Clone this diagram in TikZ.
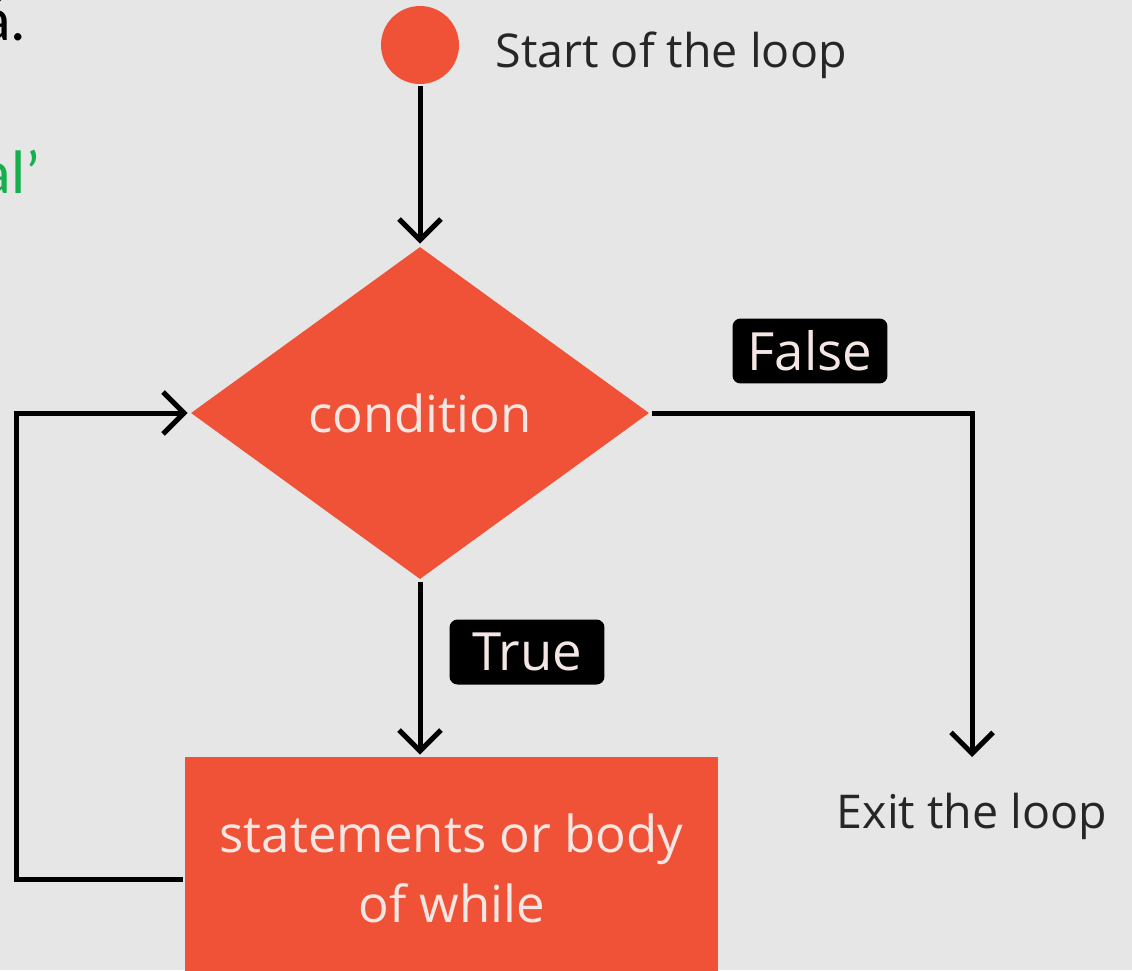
\documentclass[tikz,border=0pt]{standalone}
\usepackage{fontspec}
\setmainfont{Open Sans}
\newfontfamily\docfont{Carlito}
\usetikzlibrary{arrows.meta, positioning, shapes.geometric}
\definecolor{corange}{HTML}{F05237}
\definecolor{cback}{HTML}{E6E6E6}
\definecolor{cpale}{HTML}{F4E6E2}
\definecolor{cgreen}{HTML}{13B04B}
\newcommand\flowsize{\fontsize{26.5}{39.8}\selectfont}
\newcommand\shapesize{\fontsize{29}{39.8}\selectfont}
\tikzset{
  every picture/.style={line width=0.1cm},
  shapebox/.style={fill=corange, text=cpale, inner sep=0pt, align=center, font=\shapesize},
  tag/.style={fill=black, text=cpale, rounded corners=0.16cm, minimum width=3.1cm, minimum height=1.3cm, inner sep=0pt, font=\fontsize{30}{36}\selectfont},
  note/.style={font=\flowsize, text=black!85},
  arrow/.style={-{Straight Barb[length=0.42cm, width=0.84cm]}, draw=black},
}

\begin{document}
\begin{tikzpicture}[x=0.02cm, y=-0.02cm]
  \fill[cback] (0,0) rectangle (1132,970);
  \useasboundingbox (0,0) rectangle (1132,970);
  % cut-off text of the page behind
  \node[anchor=base east, inner sep=0pt, font=\docfont\fontsize{35}{42}\selectfont] (pagea) at (29,40) {á.};
  \node[anchor=base east, inner sep=0pt, text=cgreen, font=\docfont\fontsize{35}{42}\selectfont] (pageb) at (43,193) {al’};
  % the loop
  \node[circle, fill=corange, minimum size=1.56cm, inner sep=0pt] (start) at (420,45) {};
  \node[note, anchor=base west, inner sep=0pt] (startlbl) at (493,67) {Start of the loop};
  \node[shapebox, diamond, minimum width=9.2cm, minimum height=6.68cm] (cond) at (420,413) {condition};
  \node[shapebox, minimum width=10.66cm, minimum height=4.44cm] (body) at (451.5,868) {statements or body\\of while};
  \node[tag] (false) at (810,351) {False};
  \node[tag] (true) at (527,652) {True};
  \coordinate (exitin) at (972,757);
  \node[note, anchor=base, inner sep=0pt] (exit) at (972,828) {Exit the loop};
  \draw[arrow] (start) -- (cond.north);
  \draw[arrow] (cond.south) -- (cond.south |- body.north);
  \draw[arrow] (cond.east) -| (exitin);
  \draw[arrow] ([yshift=-0.22cm]body.west) -- ++(-166,0) |- (cond.west);
\end{tikzpicture}
\end{document}
